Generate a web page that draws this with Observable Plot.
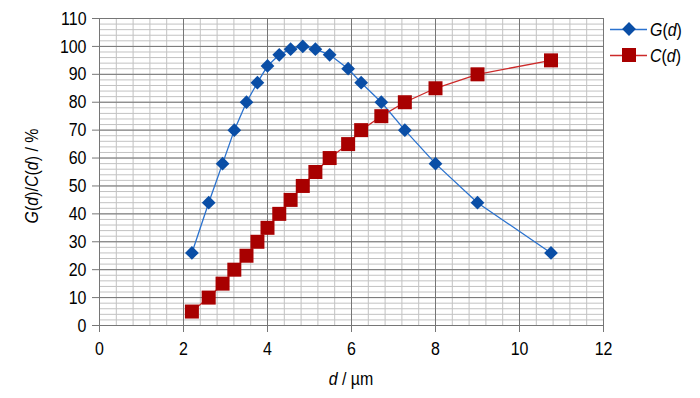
<!DOCTYPE html>
<html>
<head>
<meta charset="utf-8">
<script src="https://cdn.jsdelivr.net/npm/d3@7"></script>
<script src="https://cdn.jsdelivr.net/npm/@observablehq/plot@0.6"></script>
<style>
  body { margin: 0; background: #fff; }
  #wrap { position: relative; width: 700px; height: 398px; }
</style>
</head>
<body>
<div id="wrap"></div>
<script>
// Particle diameter d (µm)
const dValues = [2.2, 2.6, 2.93, 3.21, 3.5, 3.76, 4.0, 4.28, 4.55, 4.84, 5.14, 5.48, 5.92, 6.23, 6.71, 7.27, 8.0, 9.0, 10.75];
// G(d) series (%)
const gValues = [26, 44, 58, 70, 80, 87, 93, 97, 99, 100, 99, 97, 92, 87, 80, 70, 58, 44, 26];
// C(d) series (%)
const cValues = [5, 10, 15, 20, 25, 30, 35, 40, 45, 50, 55, 60, 65, 70, 75, 80, 85, 90, 95];
// Tick labels
const xTicks = [0, 2, 4, 6, 8, 10, 12];
const yTicks = [0, 10, 20, 30, 40, 50, 60, 70, 80, 90, 100, 110];

const data = dValues.map((d, i) => ({d, g: gValues[i], c: cValues[i]}));

const blue = "#0a4ea6";
const blueLine = "#2a72cf";
const red = "#a80000";
const redLine = "#cc2a2a";
const font = "'Liberation Sans', Arial, sans-serif";
const SX = 0.84; // horizontal condensing of text

const minorX = d3.range(0, 31).map(i => i * 0.4);
const minorY = d3.range(0, 56).map(i => i * 2);

const chart = Plot.plot({
  width: 700,
  height: 398,
  marginLeft: 99,
  marginRight: 97,
  marginTop: 18,
  marginBottom: 73,
  x: {domain: [0, 12]},
  y: {domain: [0, 110]},
  style: {fontFamily: font, fontSize: "19px", color: "#000", background: "#fff"},
  marks: [
    Plot.ruleX(minorX, {stroke: "#c2c2c2", strokeWidth: 1}),
    Plot.ruleY(minorY, {stroke: "#c2c2c2", strokeWidth: 1}),
    Plot.ruleX(xTicks, {stroke: "#767676", strokeWidth: 1}),
    Plot.ruleY(yTicks, {stroke: "#767676", strokeWidth: 1}),
    Plot.axisX({ticks: xTicks, tickSize: 7, tickPadding: 9, label: null, stroke: "#767676", fill: "#000"}),
    Plot.axisY({ticks: yTicks, tickSize: 7, tickPadding: 6, label: null, stroke: "#767676", fill: "#000"}),
    Plot.line(data, {x: "d", y: "g", stroke: blueLine, strokeWidth: 1.3}),
    Plot.dot(data, {x: "d", y: "g", symbol: "diamond2", r: 6.2, fill: blue, stroke: "none"}),
    Plot.line(data, {x: "d", y: "c", stroke: redLine, strokeWidth: 1.3}),
    Plot.dot(data, {x: "d", y: "c", symbol: "square", r: 7.9, fill: red, stroke: "none"})
  ]
});

document.getElementById("wrap").appendChild(chart);

const svg = d3.select(chart);

// condense tick label text horizontally (about its anchor)
svg.selectAll("g[aria-label$='tick label'] text").each(function () {
  const t = d3.select(this);
  const tr = t.attr("transform") || "";
  t.attr("transform", tr + ` scale(${SX},1)`);
});

// Axis titles with italic variables
const xt = svg.append("text")
  .attr("transform", `translate(351,385) scale(${SX},1)`)
  .attr("text-anchor", "middle")
  .style("font-family", font).style("font-size", "19px").attr("fill", "#000");
xt.append("tspan").attr("font-style", "italic").text("d");
xt.append("tspan").text(" / µm");

const yt = svg.append("text")
  .attr("transform", `translate(38,176) rotate(-90) scale(${SX},1)`)
  .attr("text-anchor", "middle")
  .style("font-family", font).style("font-size", "19px").attr("fill", "#000");
yt.append("tspan").attr("font-style", "italic").text("G");
yt.append("tspan").text("(");
yt.append("tspan").attr("font-style", "italic").text("d");
yt.append("tspan").text(")/");
yt.append("tspan").attr("font-style", "italic").text("C");
yt.append("tspan").text("(");
yt.append("tspan").attr("font-style", "italic").text("d");
yt.append("tspan").text(") / %");

// Legend
const legend = [
  {name: "G", y: 29, line: blueLine, fill: blue, sym: d3.symbolDiamond2, size: 6.2 * 6.2 * Math.PI},
  {name: "C", y: 55, line: redLine, fill: red, sym: d3.symbolSquare, size: 7.9 * 7.9 * Math.PI}
];
legend.forEach(l => {
  const g = svg.append("g");
  g.append("line").attr("x1", 610).attr("x2", 647).attr("y1", l.y + 0.5).attr("y2", l.y + 0.5)
    .attr("stroke", l.line).attr("stroke-width", 1.5);
  g.append("path").attr("d", d3.symbol(l.sym, l.size)()).attr("transform", `translate(629,${l.y})`).attr("fill", l.fill);
  const t = g.append("text")
    .attr("transform", `translate(650,${l.y + 7}) scale(${SX},1)`)
    .attr("text-anchor", "start")
    .style("font-family", font).style("font-size", "19px").attr("fill", "#000");
  t.append("tspan").attr("font-style", "italic").text(l.name);
  t.append("tspan").text("(");
  t.append("tspan").attr("font-style", "italic").text("d");
  t.append("tspan").text(")");
});
</script>
</body>
</html>
